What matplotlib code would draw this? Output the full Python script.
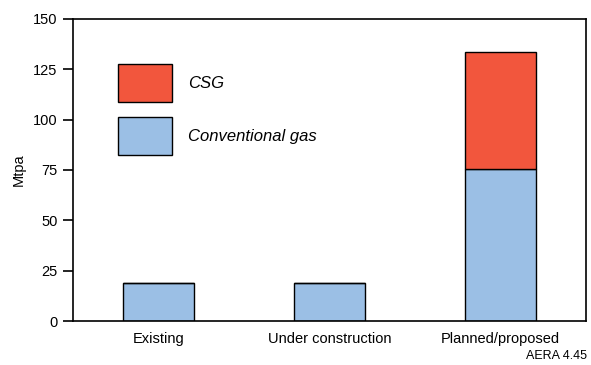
import matplotlib.pyplot as plt
import numpy as np

plt.rcParams['font.family'] = ['Liberation Sans', 'DejaVu Sans']

categories = ['Existing', 'Under construction', 'Planned/proposed']
conventional = [19, 19, 75.5]
csg = [0, 0, 58]

fig = plt.figure(figsize=(5.91, 3.65), dpi=100)
ax = fig.add_axes([0.1235, 0.1205, 0.868, 0.8275])

x = np.arange(len(categories))
blue = '#9BBFE5'
red = '#F2563D'
ax.bar(x, conventional, width=0.41, color=blue, edgecolor='black', linewidth=1.0,
       label='Conventional gas')
ax.bar(x, csg, width=0.41, bottom=conventional, color=red, edgecolor='black',
       linewidth=1.0, label='CSG')

ax.set_xlim(-0.5, 2.5)
ax.set_ylim(0, 150)
ax.set_yticks([0, 25, 50, 75, 100, 125, 150])
ax.set_xticks(x)
ax.set_xticklabels(categories)
ax.tick_params(axis='y', length=7, width=1.2, labelsize=10.5, pad=4)
ax.tick_params(axis='x', length=0, labelsize=10.5, pad=8)
for s in ax.spines.values():
    s.set_linewidth(1.2)
ax.set_ylabel('Mtpa', fontsize=10.5, labelpad=5)

# legend with big swatches, reversed so CSG is on top
handles, labels = ax.get_legend_handles_labels()
ax.legend(handles[::-1], labels[::-1], loc='upper left', bbox_to_anchor=(0.088, 0.851),
          frameon=False, borderpad=0, borderaxespad=0, handlelength=3.25,
          handleheight=3.1, handletextpad=0.95, labelspacing=0.95,
          prop={'style': 'italic', 'size': 12})

fig.text(0.993, 0.008, 'AERA 4.45', ha='right', va='bottom', fontsize=9)

fig.savefig('out.png', dpi=100)
